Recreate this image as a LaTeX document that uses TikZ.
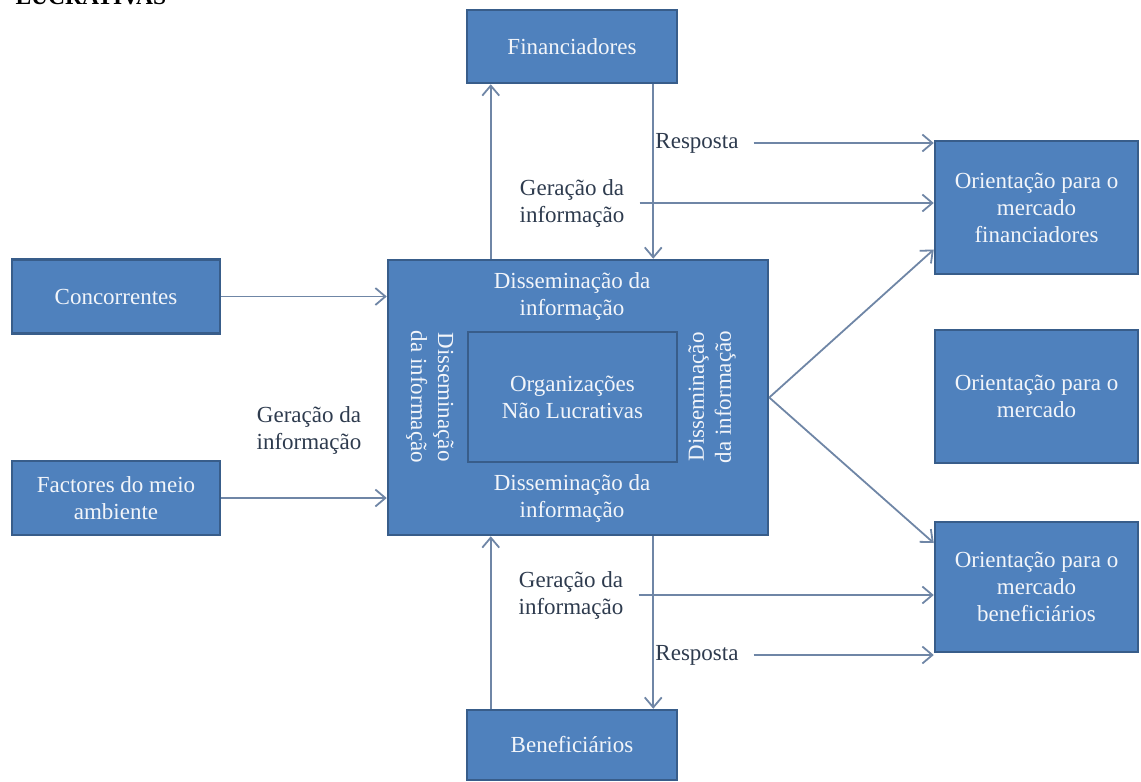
\documentclass[tikz,border=0pt]{standalone}
\usepackage{fontspec}
\setmainfont{Liberation Serif}
\usetikzlibrary{arrows.meta, calc, positioning}
\definecolor{ngoblue}{HTML}{4F81BD}
\definecolor{ngoedge}{HTML}{385D8A}
\definecolor{ngoline}{HTML}{6F86A6}
\definecolor{ngotext}{HTML}{2E3B4E}
\definecolor{ngolight}{HTML}{F2F5FA}

\tikzset{
  blockbox/.style={draw=ngoedge, line width=2.5pt, fill=ngoblue, text=ngolight, align=center, inner sep=0pt},
  flow/.style={ngoline, line width=1.8pt, -{Straight Barb[length=10pt,width=17pt]}},
  freetext/.style={text=ngotext, align=center, inner sep=2pt},
  intext/.style={text=ngolight, align=center, inner sep=0pt}
}

\begin{document}
\begin{tikzpicture}[x=1pt,y=-1pt,font=\fontsize{23}{27}\selectfont]
    \useasboundingbox (0,0) rectangle (1141,782);
    \node[anchor=base west, font=\fontsize{23.5}{27}\selectfont\bfseries] (title) at (12,4) {LUCRATIVAS};
    % blocos
    \node[blockbox, minimum width=210pt, minimum height=73pt] (fin) at (572,46.5) {Financiadores};
    \node[blockbox, minimum width=210pt, minimum height=70pt] (ben) at (572,745) {Beneficiários};
    \node[blockbox, minimum width=208pt, minimum height=74pt] (conc) at (116,296.5) {Concorrentes};
    \node[blockbox, minimum width=208pt, minimum height=74pt] (fact) at (116,498) {Factores do meio\\ambiente};
    \node[blockbox, minimum width=380pt, minimum height=275pt] (ngo) at (578,397.5) {};
    \node[blockbox, minimum width=209pt, minimum height=130pt] (inner) at (572.5,397) {Organizações\\Não Lucrativas};
    \node[blockbox, minimum width=203pt, minimum height=133pt] (ofin) at (1036.5,207.5) {Orientação para o\\mercado\\financiadores};
    \node[blockbox, minimum width=203pt, minimum height=133pt] (omer) at (1036.5,396.5) {Orientação para o\\mercado};
    \node[blockbox, minimum width=203pt, minimum height=130pt] (oben) at (1036.5,587) {Orientação para o\\mercado\\beneficiários};
    % textos dentro do bloco central
    \node[intext] (dtop) at (572,296) {Disseminação da\\informação};
    \node[intext] (dbot) at (572,498) {Disseminação da\\informação};
    \node[intext, rotate=-90] (dleft) at (430,397) {Disseminação\\da informação};
    \node[intext, rotate=90] (dright) at (712,397) {Disseminação\\da informação};
    % ligações verticais
    \coordinate (upx) at ($(fin.south west)+(25,0)$);
    \coordinate (dnx) at ($(fin.south east)+(-25,0)$);
    \draw[flow] (ngo.north -| upx) -- (fin.south -| upx);
    \draw[flow] (fin.south -| dnx) -- (ngo.north -| dnx);
    \draw[flow] (ben.north -| upx) -- (ngo.south -| upx);
    \draw[flow] (ngo.south -| dnx) -- (ben.north -| dnx);
    % etiquetas
    \node[freetext] (gtop) at (572,203) {Geração da\\informação};
    \node[freetext, anchor=west] (rtop) at (dnx |- 0,143) {Resposta};
    \node[freetext] (gleft) at (309,430) {Geração da\\informação};
    \node[freetext] (gbot) at (571,595) {Geração da\\informação};
    \node[freetext, anchor=west] (rbot) at (dnx |- 0,655) {Resposta};
    % ligações horizontais
    \draw[flow] (conc.east) -- (ngo.west |- conc.east);
    \draw[flow] (fact.east) -- (ngo.west |- fact.east);
    \draw[flow] ([xshift=13pt]rtop.east) -- (ofin.west |- rtop.east);
    \draw[flow] ([xshift=13pt]gtop.east) -- (ofin.west |- gtop.east);
    \draw[flow] ([xshift=13pt]gbot.east) -- (oben.west |- gbot.east);
    \draw[flow] ([xshift=13pt]rbot.east) -- (oben.west |- rbot.east);
    \draw[flow] (ngo.east) -- ($(ofin.west)+(0,42)$);
    \draw[flow] (ngo.east) -- ($(oben.west)+(0,-44)$);
\end{tikzpicture}
\end{document}
